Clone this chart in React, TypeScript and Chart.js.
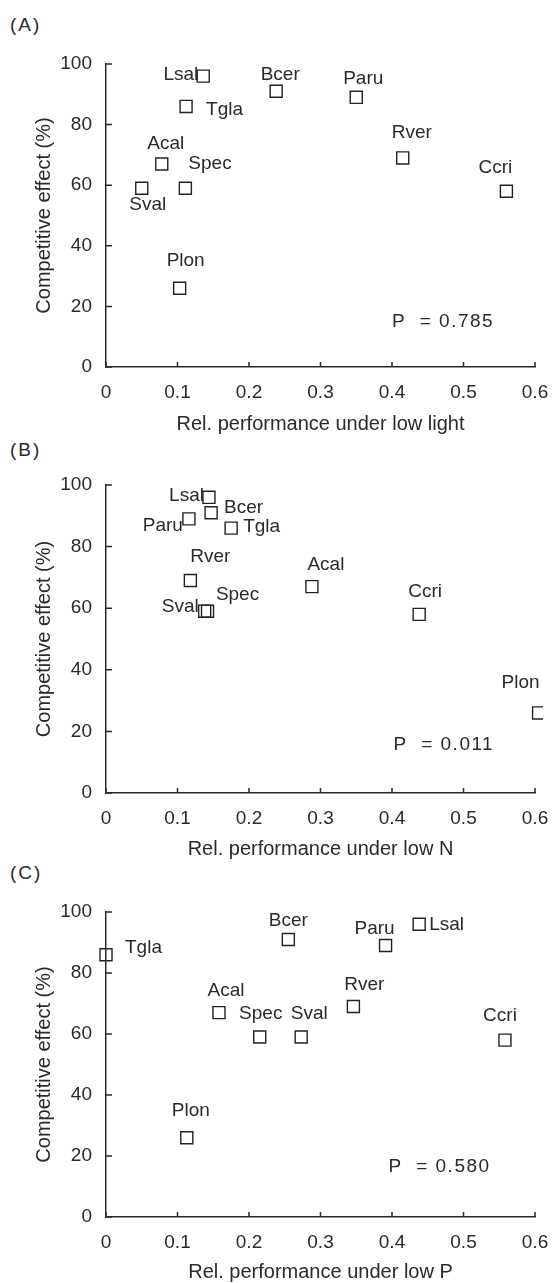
import React, { useEffect, useRef } from 'react';
import { Chart, registerables } from 'chart.js';

Chart.register(...registerables);

// ---- data ----
const species = ['Lsal', 'Bcer', 'Paru', 'Tgla', 'Rver', 'Acal', 'Sval', 'Spec', 'Ccri', 'Plon'];
const competitiveEffect = [96, 91, 89, 86, 69, 67, 59, 59, 58, 26];
const lowLight = [0.136, 0.238, 0.35, 0.112, 0.415, 0.078, 0.05, 0.111, 0.56, 0.103];
const lowN = [0.144, 0.147, 0.116, 0.175, 0.118, 0.288, 0.138, 0.142, 0.438, 0.605];
const lowP = [0.438, 0.255, 0.391, 0.0, 0.346, 0.158, 0.273, 0.215, 0.558, 0.113];
const xTickLabels = ['0', '0.1', '0.2', '0.3', '0.4', '0.5', '0.6'];
const yTickLabels = ['0', '20', '40', '60', '80', '100'];
const panelLetters = ['(A)', '(B)', '(C)'];
const xTitles = ['Rel. performance under low light', 'Rel. performance under low N', 'Rel. performance under low P'];
const yTitle = 'Competitive effect (%)';
const pValues = ['0.785', '0.011', '0.580'];
const pPosX = [0.40, 0.402, 0.395];
const pPosY = [15, 15.5, 16.6];

// ---- styles / layout ----
const TEXT = '#2a2a2a';
const FONT = '"Liberation Sans", Arial, Helvetica, sans-serif';

type Placement = [CanvasTextAlign, number, number];

const placementsA: Placement[] = [
  ['right', -5, -1], ['center', 4, -17], ['center', 7, -19], ['left', 20, 3], ['center', 9, -25],
  ['center', 4, -20], ['center', 6, 17], ['left', 3, -24], ['center', -11, -23], ['center', 6, -27],
];
const placementsB: Placement[] = [
  ['right', -5, -2], ['left', 13, -5], ['right', -6, 7], ['left', 12, -1], ['center', 20, -24],
  ['center', 14, -22], ['right', -6, -5], ['center', 30, -17], ['center', 6, -23], ['center', -18, -30],
];
const placementsC: Placement[] = [
  ['left', 10, 1], ['center', 0, -19], ['center', -11, -17], ['left', 19, -7], ['center', 11, -22],
  ['center', 7, -22], ['center', 8, -23], ['center', 1, -23], ['center', -5, -24], ['center', 4, -27],
];

const panels = [
  { xs: lowLight, canvasTop: 0, plotH: 303, titlePad: 0, letterOffset: -39, placements: placementsA },
  { xs: lowN, canvasTop: 421, plotH: 308, titlePad: 1, letterOffset: -35, placements: placementsB },
  { xs: lowP, canvasTop: 848, plotH: 305, titlePad: 2, letterOffset: -39, placements: placementsC },
];

const PLOT_TOP = 64;
const X_AXIS_H = 69;
const Y_AXIS_W = 106;
const RIGHT_PAD = 18;
const W = 553;

const annotPlugin = {
  id: 'annot',
  afterDraw(chart: any, _args: any, opts: any) {
    const { ctx } = chart;
    const xs = chart.scales.x;
    const ys = chart.scales.y;
    ctx.save();
    // inward tick marks
    ctx.strokeStyle = TEXT;
    ctx.lineWidth = 1.5;
    ctx.beginPath();
    xs.ticks.forEach((t: any) => {
      const px = xs.getPixelForValue(t.value);
      ctx.moveTo(px, ys.bottom);
      ctx.lineTo(px, ys.bottom - 5);
    });
    ys.ticks.forEach((t: any) => {
      const py = ys.getPixelForValue(t.value);
      ctx.moveTo(xs.left, py);
      ctx.lineTo(xs.left + 6, py);
    });
    ctx.stroke();

    // point labels
    ctx.font = `19px ${FONT}`;
    ctx.fillStyle = TEXT;
    ctx.textBaseline = 'middle';
    const meta = chart.getDatasetMeta(0);
    meta.data.forEach((pt: any, i: number) => {
      const pl: Placement = opts.placements[i];
      ctx.textAlign = pl[0];
      ctx.fillText(species[i], pt.x + pl[1], pt.y + pl[2]);
    });

    // P value
    ctx.textAlign = 'left';
    (ctx as any).letterSpacing = '1.5px';
    ctx.fillText('P  = ' + opts.p, xs.getPixelForValue(opts.px), ys.getPixelForValue(opts.py));
    ctx.restore();
  },
};

function Panel({ idx }: { idx: number }) {
  const ref = useRef<HTMLCanvasElement | null>(null);
  const p = panels[idx];
  const H = PLOT_TOP + p.plotH + X_AXIS_H;

  useEffect(() => {
    if (!ref.current) return;
    const chart = new Chart(ref.current, {
      type: 'scatter',
      data: {
        datasets: [
          {
            data: p.xs.map((x, i) => ({ x, y: competitiveEffect[i] })),
            pointStyle: 'rect',
            pointRadius: 8.5,
            pointHoverRadius: 8.5,
            borderColor: '#222',
            backgroundColor: 'transparent',
            borderWidth: 1.4,
            clip: { left: 12, top: 12, right: 8, bottom: 12 } as any,
          },
        ],
      },
      options: {
        responsive: false,
        animation: false,
        events: [],
        layout: { padding: { top: PLOT_TOP, right: RIGHT_PAD, left: 0, bottom: 0 } },
        plugins: {
          legend: { display: false },
          tooltip: { enabled: false },
          annot: { placements: p.placements, p: pValues[idx], px: pPosX[idx], py: pPosY[idx] },
        } as any,
        scales: {
          x: {
            type: 'linear',
            min: 0,
            max: 0.6,
            afterFit: (s: any) => {
              s.height = X_AXIS_H;
              s.paddingLeft = 0;
              s.paddingRight = 0;
            },
            ticks: {
              stepSize: 0.1,
              padding: 14,
              color: TEXT,
              font: { family: FONT, size: 19 },
              callback: (_v: any, i: number) => xTickLabels[i],
            },
            grid: { display: true, color: 'transparent', drawTicks: false },
            border: { display: true, color: TEXT, width: 1.5 },
            title: {
              display: true,
              text: xTitles[idx],
              color: TEXT,
              font: { family: FONT, size: 20 },
              padding: { top: 0, bottom: p.titlePad },
            },
          },
          y: {
            type: 'linear',
            min: 0,
            max: 100,
            afterFit: (s: any) => {
              s.width = Y_AXIS_W;
              s.paddingTop = 0;
              s.paddingBottom = 0;
            },
            ticks: {
              stepSize: 20,
              padding: 14,
              color: TEXT,
              font: { family: FONT, size: 19 },
              callback: (_v: any, i: number) => yTickLabels[i],
            },
            grid: { display: true, color: 'transparent', drawTicks: false },
            border: { display: true, color: TEXT, width: 1.5 },
            title: {
              display: true,
              text: yTitle,
              color: TEXT,
              font: { family: FONT, size: 20 },
              padding: { top: 32, bottom: 0 },
            },
          },
        },
      },
      plugins: [annotPlugin],
    });
    return () => chart.destroy();
  }, [idx]);

  return (
    <>
      <div
        style={{
          position: 'absolute',
          left: 10,
          top: p.canvasTop + PLOT_TOP + p.letterOffset - 11,
          font: `19px ${FONT}`,
          lineHeight: '22px',
          letterSpacing: '2px',
          color: TEXT,
        }}
      >
        {panelLetters[idx]}
      </div>
      <canvas
        ref={ref}
        width={W}
        height={H}
        style={{ position: 'absolute', left: 0, top: p.canvasTop, width: W, height: H }}
      />
    </>
  );
}

export default function App() {
  useEffect(() => {
    document.body.style.margin = '0';
    document.body.style.overflow = 'hidden';
  }, []);
  return (
    <div style={{ position: 'relative', width: W, height: 1283, overflow: 'hidden', background: '#fff' }}>
      <Panel idx={0} />
      <Panel idx={1} />
      <Panel idx={2} />
    </div>
  );
}
